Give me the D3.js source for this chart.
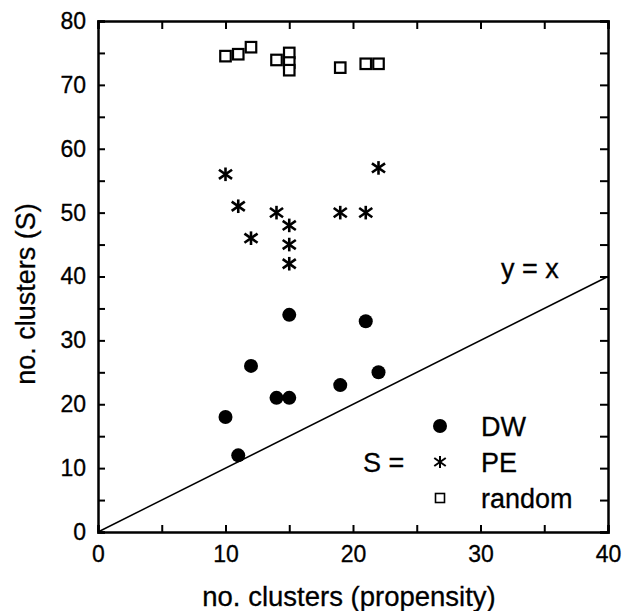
<!DOCTYPE html>
<html lang="en">
<head>
<meta charset="utf-8">
<script src="https://d3js.org/d3.v7.min.js"></script>
<style>
  body { margin: 0; background: #fff; }
  text { font-family: "Liberation Sans", Arial, Helvetica, sans-serif; fill: #000; }
</style>
</head>
<body>
<svg width="624" height="611" id="chart"></svg>
<script>
// values
var dwX = [10, 11, 12, 14, 15, 15, 19, 21, 22];
var dwY = [18, 12, 26, 21, 21, 34, 23, 33, 25];
var peX = [10, 11, 12, 14, 15, 15, 15, 19, 21, 22];
var peY = [56, 51, 46, 50, 48, 45, 42, 50, 50, 57];
var rndX = [10, 11, 12, 14, 15, 15, 15, 19, 21, 22];
var rndY = [74.5, 74.8, 75.9, 73.9, 75.0, 73.5, 72.3, 72.7, 73.3, 73.3];
var tickVals = [0, 5, 10, 15, 20, 25, 30, 35, 40];
var yTickVals = [0, 5, 10, 15, 20, 25, 30, 35, 40, 45, 50, 55, 60, 65, 70, 75, 80];
var legendNames = ["DW", "PE", "random"];

var svg = d3.select("#chart");
var pLeft = 98, pRight = 608, pTop = 21, pBottom = 532;

var x = d3.scaleLinear().domain([0, 40]).range([pLeft, pRight]);
var y = d3.scaleLinear().domain([0, 80]).range([pBottom, pTop]);

var fmt = function(d) { return d % 10 === 0 ? d : ""; };

// y = x line
svg.append("line")
  .attr("x1", x(0)).attr("y1", y(0))
  .attr("x2", x(40)).attr("y2", y(40))
  .attr("stroke", "#000").attr("stroke-width", 1.5);

// axes, ticks pointing inward
var gb = svg.append("g").attr("transform", "translate(0," + pBottom + ")")
  .call(d3.axisBottom(x).tickValues(tickVals).tickSize(-7).tickPadding(14).tickFormat(fmt));
var gt = svg.append("g").attr("transform", "translate(0," + pTop + ")")
  .call(d3.axisTop(x).tickValues(tickVals).tickSize(-8).tickFormat(""));
var gl = svg.append("g").attr("transform", "translate(" + pLeft + ",0)")
  .call(d3.axisLeft(y).tickValues(yTickVals).tickSize(-7).tickPadding(12).tickFormat(fmt));
var gr = svg.append("g").attr("transform", "translate(" + pRight + ",0)")
  .call(d3.axisRight(y).tickValues(yTickVals).tickSize(-8).tickFormat(""));

[gb, gt, gl, gr].forEach(function(g) {
  g.attr("font-family", null).attr("font-size", null);
  g.select(".domain").attr("stroke", "#000").attr("stroke-width", 2.5);
  g.selectAll(".tick line").attr("stroke", "#000").attr("stroke-width", 2);
  g.selectAll(".tick text").style("font-size", "23px")
    .attr("stroke", "#000").attr("stroke-width", 0.3);
});

// axis titles
svg.append("text")
  .attr("x", 349).attr("y", 606)
  .attr("text-anchor", "middle")
  .style("font-size", "27.5px")
  .attr("stroke", "#000").attr("stroke-width", 0.3)
  .text("no. clusters (propensity)");

svg.append("text")
  .attr("transform", "translate(35,294) rotate(-90)")
  .attr("text-anchor", "middle")
  .style("font-size", "27px")
  .attr("stroke", "#000").attr("stroke-width", 0.3)
  .text("no. clusters (S)");

svg.append("text")
  .attr("x", 501).attr("y", 278)
  .style("font-size", "27px")
  .attr("stroke", "#000").attr("stroke-width", 0.3)
  .text("y = x");

// marker helpers
function star(g, cx, cy, r, w) {
  // vertical arm plus two diagonals
  var arms = [[90, r * 0.85], [35, r], [-35, r]];
  arms.forEach(function(a) {
    var t = a[0] * Math.PI / 180, l = a[1];
    g.append("line")
      .attr("x1", cx - l * Math.cos(t)).attr("y1", cy - l * Math.sin(t))
      .attr("x2", cx + l * Math.cos(t)).attr("y2", cy + l * Math.sin(t))
      .attr("stroke", "#000").attr("stroke-width", w);
  });
}
function square(g, cx, cy, s, w) {
  g.append("rect")
    .attr("x", cx - s / 2).attr("y", cy - s / 2)
    .attr("width", s).attr("height", s)
    .attr("fill", "#fff").attr("stroke", "#000").attr("stroke-width", w);
}

var pts = svg.append("g");

rndX.forEach(function(d, i) { square(pts, x(d), y(rndY[i]), 10.5, 2.2); });
peX.forEach(function(d, i) { star(pts, x(d), y(peY[i]), 8, 2.6); });
pts.selectAll("circle.dw")
  .data(dwX)
  .enter().append("circle")
  .attr("class", "dw")
  .attr("cx", function(d) { return x(d); })
  .attr("cy", function(d, i) { return y(dwY[i]); })
  .attr("r", 7)
  .attr("fill", "#000");

// legend
var leg = svg.append("g");
var lx = 440, ly = [426, 462, 498];
leg.append("circle").attr("cx", lx).attr("cy", ly[0]).attr("r", 7).attr("fill", "#000");
star(leg, lx, ly[1], 7, 2);
square(leg, lx, ly[2], 9, 1.6);
legendNames.forEach(function(n, i) {
  leg.append("text")
    .attr("x", 481).attr("y", ly[i])
    .attr("dy", "0.36em")
    .style("font-size", "27px")
    .attr("stroke", "#000").attr("stroke-width", 0.3)
    .text(n);
});
leg.append("text")
  .attr("x", 363).attr("y", ly[1])
  .attr("dy", "0.36em")
  .style("font-size", "27px")
  .attr("stroke", "#000").attr("stroke-width", 0.3)
  .text("S =");
</script>
</body>
</html>
